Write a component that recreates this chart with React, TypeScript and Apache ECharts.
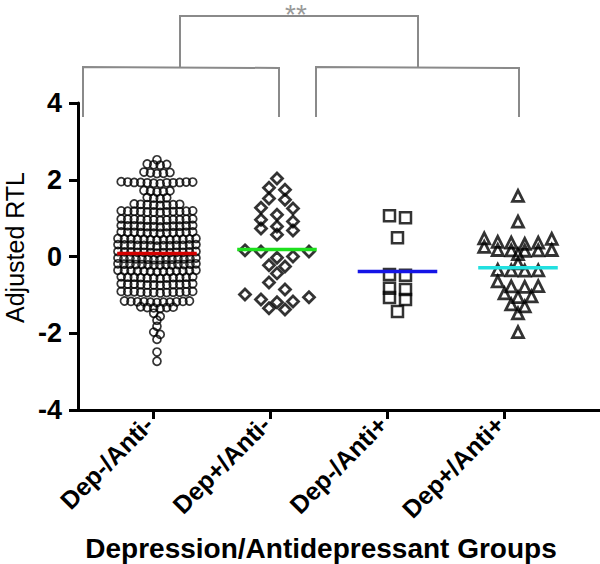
import React, { useEffect, useRef } from "react";
import * as echarts from "echarts";

// ---------- data ----------
const groups = ["Dep-/Anti-", "Dep+/Anti-", "Dep-/Anti+", "Dep+/Anti+"];
const groupTicks = [1, 2, 3, 4];

const depNegAntiNeg = [
  2.52,
  2.41, 2.39, 2.4, 2.38,
  2.19, 2.17, 2.18, 2.2, 2.16,
  1.94, 1.92, 1.93, 1.91, 1.95, 1.93, 1.92, 1.94, 1.9, 1.93, 1.92, 1.94,
  1.71, 1.69, 1.7, 1.68, 1.72,
  1.54, 1.52, 1.53, 1.51,
  1.36, 1.34, 1.35, 1.37, 1.33, 1.35, 1.36, 1.34,
  1.18, 1.16, 1.17, 1.19, 1.15, 1.17, 1.18, 1.16, 1.17, 1.19, 1.16, 1.18,
  0.97, 0.95, 0.96, 0.98, 0.94, 0.96, 0.97, 0.95, 0.96, 0.98, 0.95, 0.97,
  0.8, 0.78, 0.79, 0.81, 0.77, 0.79, 0.8, 0.78, 0.79, 0.81, 0.78, 0.8,
  0.63, 0.61, 0.62, 0.64, 0.6, 0.62, 0.63, 0.61, 0.62, 0.64, 0.61, 0.63,
  0.46, 0.44, 0.45, 0.47, 0.43, 0.45, 0.46, 0.44, 0.45, 0.47, 0.44, 0.46, 0.45,
  0.3, 0.28, 0.29, 0.31, 0.27, 0.29, 0.3, 0.28, 0.29, 0.31, 0.28, 0.3, 0.29,
  0.12, 0.1, 0.11, 0.13, 0.09, 0.11, 0.12, 0.1, 0.11, 0.13, 0.1, 0.12, 0.11,
  -0.05, -0.07, -0.06, -0.04, -0.08, -0.06, -0.05, -0.07, -0.06, -0.04, -0.07, -0.05, -0.06, -0.08,
  -0.2, -0.22, -0.21, -0.19, -0.23, -0.21, -0.2, -0.22, -0.21, -0.19, -0.22, -0.2, -0.21, -0.23,
  -0.37, -0.39, -0.38, -0.36, -0.4, -0.38, -0.37, -0.39, -0.38, -0.36, -0.39, -0.37, -0.38,
  -0.54, -0.56, -0.55, -0.53, -0.57, -0.55, -0.54, -0.56, -0.55, -0.53, -0.56, -0.54,
  -0.72, -0.74, -0.73, -0.71, -0.75, -0.73, -0.72, -0.74, -0.73, -0.71, -0.74, -0.72,
  -0.92, -0.94, -0.93, -0.91, -0.95, -0.93, -0.92, -0.94, -0.93, -0.91, -0.94, -0.92,
  -1.17, -1.19, -1.18, -1.16, -1.2, -1.18, -1.17, -1.19, -1.18, -1.16, -1.19,
  -1.32, -1.34, -1.33, -1.31, -1.35, -1.33,
  -1.48, -1.56, -1.66, -1.82, -1.97, -2.03, -2.16, -2.49, -2.73,
];

const depPosAntiNeg = [
  2.03, 1.79, 1.74, 1.51, 1.48, 1.27, 1.25, 1.09, 0.96, 0.91, 0.78, 0.73, 0.68,
  0.57, 0.16, 0.13, 0.13, 0.0, -0.03, -0.23, -0.26, -0.44, -0.68, -0.86, -0.99,
  -1.06, -1.12, -1.17, -1.19, -1.35, -1.38,
];

const depNegAntiPos = [1.06, 1.01, 0.49, -0.47, -0.49, -0.83, -0.86, -1.07, -1.12, -1.43];

const depPosAntiPos = [
  1.58, 0.91, 0.47, 0.46, 0.38, 0.36, 0.36, 0.33, 0.25, 0.17, 0.16, 0.15, 0.17, 0.16,
  0.06, -0.18, -0.35, -0.36, -0.37, -0.36, -0.65, -0.78, -0.77, -0.79,
  -0.96, -1.04, -1.06, -1.25, -1.3, -1.48, -1.97,
];

const groupMeans = [0.08, 0.18, -0.39, -0.29];
const meanColors = ["#d40000", "#1ee01e", "#1414e6", "#22e0e0"];

// ---------- layout ----------
const FONT = "'Liberation Sans', Arial, Helvetica, sans-serif";
const GRID = { left: 78, top: 103, width: 522, height: 307 };
const X_MIN = 0.359;
const X_MAX = 4.821;
const Y_MIN = -4;
const Y_MAX = 4;
const centers = [1.034, 2.06, 3.09, 4.12];
const meanHalfWidth = 0.34;

// GraphPad-like row scatter: values close together share a row, spread evenly
function rowScatter(values: number[], center: number, tol: number, spacing: number, maxW: number): number[][] {
  const pxX = GRID.width / (X_MAX - X_MIN);
  const sorted = [...values].sort((a, b) => b - a);
  const out: number[][] = [];
  let i = 0;
  while (i < sorted.length) {
    let j = i;
    while (j < sorted.length && sorted[i] - sorted[j] <= tol + 1e-9) j++;
    const row = sorted.slice(i, j);
    const k = row.length;
    const s = k > 1 ? Math.min(spacing, maxW / (k - 1)) : 0;
    const slots = row.map((_, idx) => (idx - (k - 1) / 2) * s);
    slots.sort((a, b) => Math.abs(b) - Math.abs(a) || a - b);
    row.forEach((v, idx) => out.push([center + slots[idx] / pxX, v]));
    i = j;
  }
  return out;
}

export default function App() {
  const ref = useRef<HTMLDivElement>(null);

  useEffect(() => {
    if (!ref.current) return;
    const chart = echarts.init(ref.current, undefined, { renderer: "svg" });

    const hollow = (bw: number) => ({
      color: "rgba(255,255,255,0)",
      borderColor: "#000",
      borderWidth: bw,
    });

    const scatterSeries = [
      { data: rowScatter(depNegAntiNeg, centers[0], 0.1, 6.5, 78), symbol: "circle", symbolSize: 8, itemStyle: hollow(1.7) },
      { data: rowScatter(depPosAntiNeg, centers[1], 0.2, 16, 72), symbol: "diamond", symbolSize: 11, itemStyle: hollow(2.8) },
      { data: rowScatter(depNegAntiPos, centers[2], 0.2, 16, 40), symbol: "rect", symbolSize: 11, itemStyle: hollow(2.5) },
      { data: rowScatter(depPosAntiPos, centers[3], 0.16, 13.5, 76), symbol: "triangle", symbolSize: 11, itemStyle: hollow(2.8) },
    ].map((s, i) => ({
      type: "scatter",
      name: groups[i],
      silent: true,
      z: 2,
      ...s,
    }));

    const meanSeries = groupMeans.map((m, i) => ({
      type: "line",
      name: groups[i] + " mean",
      silent: true,
      symbol: "none",
      z: 3,
      lineStyle: { color: meanColors[i], width: 3.5 },
      data: [
        [centers[i] - meanHalfWidth, m],
        [centers[i] + meanHalfWidth, m],
      ],
    }));

    const bracketStyle = { stroke: "#8a8a8a", lineWidth: 2, fill: "none" };

    chart.setOption({
      animation: false,
      backgroundColor: "#fff",
      grid: { ...GRID, containLabel: false, outerBoundsMode: "none" },
      xAxis: {
        type: "value",
        min: X_MIN,
        max: X_MAX,
        axisLine: { show: true, onZero: false, lineStyle: { color: "#000", width: 3 } },
        axisTick: { show: true, customValues: groupTicks, length: 9, lineStyle: { color: "#000", width: 3 } },
        axisLabel: {
          customValues: groupTicks,
          formatter: (v: number) => groups[Math.round(v) - 1] ?? "",
          rotate: 45,
          fontSize: 25,
          fontWeight: "bold",
          color: "#000",
          fontFamily: FONT,
          margin: 6,
          padding: [0, 6, 10, 0],
        },
        splitLine: { show: false },
        name: "Depression/Antidepressant Groups",
        nameLocation: "middle",
        nameGap: 124,
        nameTextStyle: {
          fontSize: 28,
          fontWeight: "bold",
          color: "#000",
          fontFamily: FONT,
          padding: [0, 36, 0, 0],
        },
      },
      yAxis: {
        type: "value",
        min: Y_MIN,
        max: Y_MAX,
        interval: 2,
        axisLine: { show: true, onZero: false, lineStyle: { color: "#000", width: 3 } },
        axisTick: { show: true, length: 9, lineStyle: { color: "#000", width: 3 } },
        axisLabel: { fontSize: 27, fontWeight: "bold", color: "#000", fontFamily: FONT, margin: 16 },
        splitLine: { show: false },
        name: "Adjusted RTL",
        nameLocation: "middle",
        nameGap: 51,
        nameTextStyle: { fontSize: 25, color: "#000", fontFamily: FONT, padding: [0, 0, 0, 18] },
      },
      series: [...scatterSeries, ...meanSeries],
      graphic: [
        { type: "polyline", shape: { points: [[83, 117], [83, 67], [279, 68], [279, 117]] }, style: bracketStyle, silent: true },
        { type: "polyline", shape: { points: [[316, 117], [316, 67], [519, 68], [519, 117]] }, style: bracketStyle, silent: true },
        { type: "polyline", shape: { points: [[180, 67], [180, 16], [418, 16], [418, 67]] }, style: bracketStyle, silent: true },
        {
          type: "text",
          x: 296,
          y: 0,
          silent: true,
          style: { text: "**", fill: "#999", fontSize: 28, fontFamily: FONT, align: "center", verticalAlign: "top" },
        },
      ],
    });

    return () => chart.dispose();
  }, []);

  return (
    <div
      ref={ref}
      style={{ position: "fixed", left: 0, top: 0, width: 600, height: 564, background: "#fff" }}
    />
  );
}
